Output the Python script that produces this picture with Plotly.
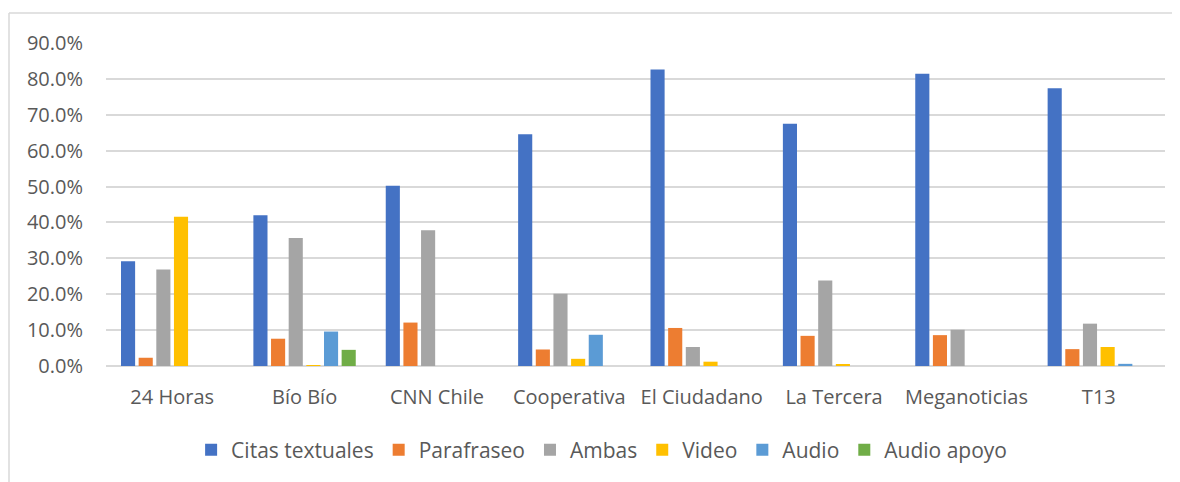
import plotly.graph_objects as go

categories = ["24 Horas", "Bío Bío", "CNN Chile", "Cooperativa", "El Ciudadano",
              "La Tercera", "Meganoticias", "T13"]
citas_textuales = [0.292, 0.420, 0.502, 0.646, 0.826, 0.675, 0.814, 0.774]
parafraseo      = [0.023, 0.076, 0.121, 0.046, 0.106, 0.084, 0.086, 0.047]
ambas           = [0.269, 0.357, 0.378, 0.201, 0.053, 0.238, 0.101, 0.118]
video           = [0.416, 0.002, 0.0, 0.020, 0.012, 0.003, 0.0, 0.053]
audio           = [0.0, 0.096, 0.0, 0.087, 0.0, 0.0, 0.0, 0.006]
audio_apoyo     = [0.0, 0.045, 0.0, 0.0, 0.0, 0.0, 0.0, 0.0]
tick_vals = [0.0, 0.1, 0.2, 0.3, 0.4, 0.5, 0.6, 0.7, 0.8, 0.9]

series = [
    ("Citas textuales", citas_textuales, "#4472C4"),
    ("Parafraseo", parafraseo, "#ED7D31"),
    ("Ambas", ambas, "#A5A5A5"),
    ("Video", video, "#FFC000"),
    ("Audio", audio, "#5B9BD5"),
    ("Audio apoyo", audio_apoyo, "#70AD47"),
]

fig = go.Figure()
for name, vals, color in series:
    fig.add_trace(go.Bar(x=categories, y=vals, name=name,
                         marker=dict(color=color, line=dict(width=0))))

font_family = "Open Sans"
gray = "#595959"
border = dict(color="#D9D9D9", width=1.5)
bx0 = (1 - 98) / 1059
by1 = (358 - 5) / 323

fig.update_layout(
    width=1180, height=482,
    margin=dict(l=98, r=23, t=35, b=124),
    paper_bgcolor="white", plot_bgcolor="white",
    barmode="group", bargap=0.2, bargroupgap=0.2,
    font=dict(family=font_family, size=20, color=gray),
    showlegend=True,
    legend=dict(orientation="h", x=0.468, xanchor="center", y=-0.26, yanchor="middle",
                font=dict(family=font_family, size=21, color=gray),
                itemsizing="constant", traceorder="normal"),
    xaxis=dict(showgrid=False, showline=False, zeroline=False, ticks="",
               tickfont=dict(family=font_family, size=20, color=gray),
               ticklabelstandoff=17),
    yaxis=dict(range=[0, 0.9], tickvals=tick_vals, tickformat=".1%",
               showgrid=True, gridcolor="#D9D9D9", gridwidth=1.5,
               zeroline=True, zerolinecolor="#D9D9D9", zerolinewidth=1.5,
               showline=False, ticks="",
               tickfont=dict(family=font_family, size=20, color=gray),
               ticklabelstandoff=22),
    shapes=[
        dict(type="line", xref="paper", yref="paper", x0=bx0, x1=1.2,
             y0=by1, y1=by1, line=border, layer="below"),
        dict(type="line", xref="paper", yref="paper", x0=bx0, x1=bx0,
             y0=-0.5, y1=by1, line=border, layer="below"),
    ],
)

fig.write_html("out.html")
